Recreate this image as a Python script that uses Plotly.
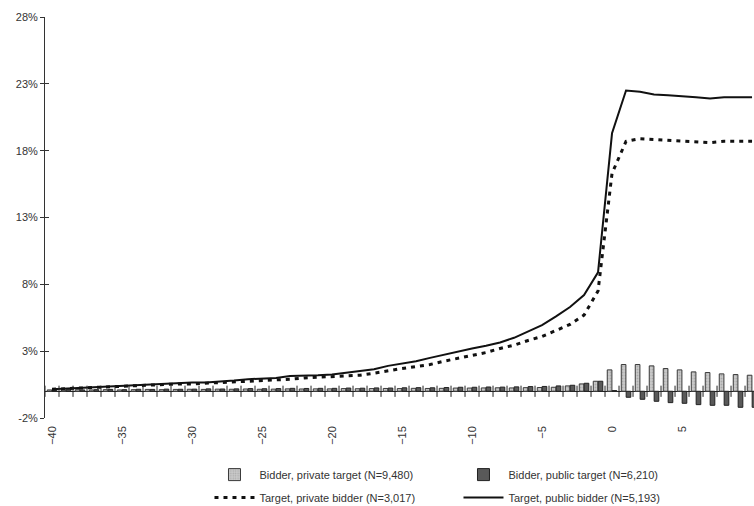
import plotly.graph_objects as go

# Event days relative to announcement (day 0)
days = list(range(-40, 11))

# Cumulative abnormal returns (%), bidders (bars)
bidder_private_target = [
    0.10, 0.10, 0.12, 0.10, 0.12, 0.10, 0.12, 0.14, 0.12, 0.14,
    0.15, 0.14, 0.16, 0.15, 0.17, 0.15, 0.16, 0.18, 0.17, 0.18,
    0.18, 0.20, 0.19, 0.20, 0.21, 0.20, 0.22, 0.21, 0.22, 0.24,
    0.24, 0.25, 0.26, 0.25, 0.27, 0.28, 0.30, 0.40, 0.55, 0.75,
    1.60, 2.00, 2.00, 1.90, 1.70, 1.60, 1.45, 1.40, 1.30, 1.25, 1.20,
]
bidder_public_target = [
    0.10, 0.12, 0.10, 0.12, 0.14, 0.12, 0.15, 0.14, 0.16, 0.15,
    0.16, 0.18, 0.17, 0.18, 0.20, 0.19, 0.20, 0.22, 0.21, 0.22,
    0.22, 0.24, 0.23, 0.25, 0.24, 0.26, 0.27, 0.26, 0.28, 0.30,
    0.30, 0.32, 0.31, 0.33, 0.35, 0.36, 0.40, 0.45, 0.60, 0.75,
    0.05, -0.45, -0.60, -0.75, -0.85, -0.90, -1.00, -1.05, -1.05, -1.20, -1.20,
]

# Cumulative abnormal returns (%), targets (lines)
target_private_bidder = [
    0.15, 0.20, 0.25, 0.30, 0.30, 0.35, 0.40, 0.45, 0.50, 0.55,
    0.55, 0.60, 0.60, 0.70, 0.75, 0.80, 0.85, 0.90, 1.00, 1.05,
    1.10, 1.15, 1.20, 1.35, 1.55, 1.70, 1.85, 2.00, 2.25, 2.45,
    2.70, 2.90, 3.20, 3.45, 3.80, 4.10, 4.55, 5.00, 5.70, 7.50,
    16.30, 18.70, 18.90, 18.85, 18.75, 18.70, 18.65, 18.60, 18.70, 18.70, 18.70,
]
target_public_bidder = [
    0.15, 0.20, 0.25, 0.30, 0.40, 0.45, 0.50, 0.50, 0.55, 0.60,
    0.65, 0.65, 0.70, 0.80, 0.90, 0.95, 1.00, 1.15, 1.15, 1.20,
    1.25, 1.40, 1.55, 1.65, 1.90, 2.05, 2.25, 2.50, 2.75, 3.00,
    3.20, 3.40, 3.65, 4.00, 4.45, 4.95, 5.60, 6.30, 7.20, 8.90,
    19.30, 22.50, 22.40, 22.20, 22.15, 22.10, 22.00, 21.90, 22.00, 22.00, 22.00,
]

y_ticks = [-2, 3, 8, 13, 18, 23, 28]
y_tick_text = [f"{v}%" for v in y_ticks]
x_ticks = list(range(-40, 11, 5))

font_family = "Liberation Sans, Arial, sans-serif"
ink = "#222222"

fig = go.Figure()

fig.add_trace(go.Bar(
    x=days, y=bidder_private_target,
    name="Bidder, private target (N=9,480)", legend="legend",
    marker=dict(color="#c9c9c9", line=dict(color="#3a3a3a", width=1),
                pattern=dict(shape=".", fgcolor="#8a8a8a", size=3, solidity=0.3)),
))
fig.add_trace(go.Bar(
    x=days, y=bidder_public_target,
    name="Bidder, public target (N=6,210)", legend="legend",
    marker=dict(color="#595959", line=dict(color=ink, width=1)),
))
fig.add_trace(go.Scatter(
    x=days, y=target_private_bidder, mode="lines",
    name="Target, private bidder (N=3,017)", legend="legend2",
    line=dict(color="#111111", width=3, dash="4px,5px"),
))
fig.add_trace(go.Scatter(
    x=days, y=target_public_bidder, mode="lines",
    name="Target, public bidder (N=5,193)", legend="legend2",
    line=dict(color="#111111", width=2),
))

# Category boundary tick marks crossing the zero line
fig.add_trace(go.Scatter(
    x=[days[0] - 0.5] + [d + 0.5 for d in days[:-1]], y=[0] * len(days),
    mode="markers", showlegend=False, hoverinfo="skip",
    marker=dict(symbol="line-ns-open", size=8, color=ink, line=dict(color=ink, width=1)),
))

# Invisible trace to activate the overlaid tick axis
fig.add_trace(go.Scatter(x=[days[0]], y=[0], yaxis="y2", mode="markers",
                         marker=dict(opacity=0), showlegend=False, hoverinfo="skip"))

legend_style = dict(
    orientation="h", xanchor="left", yanchor="top",
    entrywidth=194, entrywidthmode="pixels", traceorder="normal",
    font=dict(family=font_family, size=11, color="#333333"),
    itemwidth=40, bgcolor="rgba(0,0,0,0)",
)

fig.update_layout(
    width=754, height=506,
    margin=dict(l=45, r=0, t=17, b=88, autoexpand=False),
    paper_bgcolor="white", plot_bgcolor="white",
    barmode="group", bargap=0.3, bargroupgap=0.05,
    font=dict(family=font_family, size=11, color="#333333"),
    showlegend=True,
    legend=dict(x=0.232, y=-0.105, **legend_style),
    legend2=dict(x=0.232, y=-0.162, **legend_style),
    xaxis=dict(
        range=[-40.5, 10.14], tickvals=x_ticks, tickangle=-90,
        showgrid=False, zeroline=False, showline=False, ticks="",
        ticklabelstandoff=5,
        tickfont=dict(size=11, color="#333333"),
    ),
    yaxis=dict(
        range=[-2, 28], tickvals=y_ticks, ticktext=y_tick_text,
        showgrid=False, zeroline=True, zerolinecolor=ink, zerolinewidth=1,
        showline=True, linecolor="#333333", linewidth=1,
        ticks="outside", ticklen=4, tickcolor="#333333",
        tickfont=dict(size=11, color="#333333"),
    ),
    yaxis2=dict(
        range=[-2, 28], tickvals=y_ticks, overlaying="y", side="left",
        showticklabels=False, showgrid=False, zeroline=False, showline=False,
        ticks="inside", ticklen=4, tickcolor="#333333",
    ),
)

fig.write_html("out.html")
